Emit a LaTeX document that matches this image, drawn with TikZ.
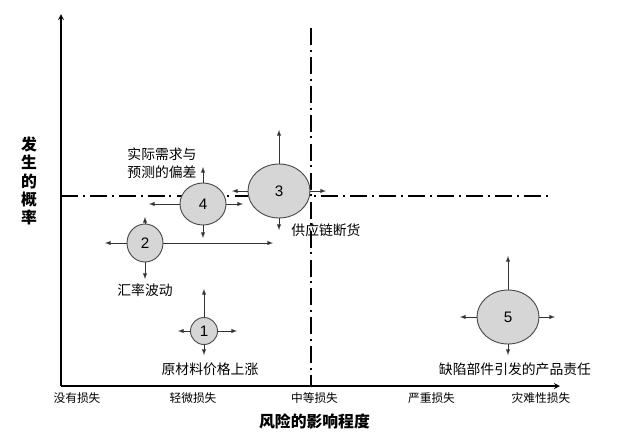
\documentclass[tikz,border=0pt]{standalone}
\usepackage{fontspec}
\setmainfont{Liberation Sans}
\newfontfamily\cjk{Noto Sans CJK SC}
\usetikzlibrary{positioning,shapes.geometric}

\tikzset{
  risk/.style={ellipse, draw=black!70, fill=black!16, line width=0.8pt, inner sep=0pt, font=\fontsize{13}{13}\selectfont},
  drift/.style={->, >=latex, draw=black!80, line width=0.65pt},
  axisline/.style={->, >=stealth, line width=1.3pt},
  limit/.style={line width=2.1pt, dash pattern=on 14.5pt off 4pt on 1.7pt off 4.5pt},
  grade/.style={font=\cjk\fontsize{10}{10}\selectfont, inner sep=0pt},
  tag/.style={font=\cjk\fontsize{11.8}{15.4}\selectfont, inner sep=0pt},
  axtitle/.style={font=\cjk\bfseries\fontsize{13.5}{15.5}\selectfont, inner sep=0pt}
}

\begin{document}
\begin{tikzpicture}[x=0.03cm, y=-0.03cm]
		\useasboundingbox (0,0) rectangle (633,434);
		
		% Draw the axes
		\coordinate (origin) at (61,386);
		\coordinate (xend) at (560,386);
		\coordinate (yend) at (61,14);
		\draw[axisline] (origin) -- (xend);
		\draw[axisline] (origin) -- (yend);
		
		% Draw the two dash-dot limits
		\coordinate (vtop) at (311,28);
		\coordinate (vbot) at (311,386);
		\coordinate (hleft) at (61,196);
		\coordinate (hright) at (550,196);
		\draw[limit] (vtop) -- (vbot);
		\draw[limit] (hleft) -- (hright);
		
		% Draw the risks
		\node (c1) [risk, minimum width=0.81cm, minimum height=0.81cm] at (204,331) {1};
		\node (c2) [risk, minimum width=1.08cm, minimum height=1.14cm] at (145,243) {2};
		\node (c3) [risk, minimum width=1.86cm, minimum height=1.62cm] at (279,191) {3};
		\node (c4) [risk, minimum width=1.38cm, minimum height=1.26cm] at (203,204) {4};
		\node (c5) [risk, minimum width=1.86cm, minimum height=1.62cm] at (508,317) {5};
		
		% Arrow ends
		\coordinate (c1u) at (204,289);
		\coordinate (c1d) at (204,355);
		\coordinate (c1l) at (178,331);
		\coordinate (c1r) at (237,331);
		\coordinate (c2u) at (145,217);
		\coordinate (c2d) at (145,279);
		\coordinate (c2l) at (105,243);
		\coordinate (c2r) at (273,243);
		\coordinate (c3u) at (279,130);
		\coordinate (c3d) at (279,230);
		\coordinate (c3l) at (232,191);
		\coordinate (c3r) at (326,191);
		\coordinate (c4u) at (203,167);
		\coordinate (c4d) at (203,238);
		\coordinate (c4l) at (149,204);
		\coordinate (c4r) at (243,204);
		\coordinate (c5u) at (508,256);
		\coordinate (c5d) at (508,355);
		\coordinate (c5l) at (460,317);
		\coordinate (c5r) at (555,317);
		
		% Connect the risks with their arrows
		\draw[drift] (c1.north) -- (c1u);
		\draw[drift] (c1.south) -- (c1d);
		\draw[drift] (c1.west) -- (c1l);
		\draw[drift] (c1.east) -- (c1r);
		\draw[drift] (c2.north) -- (c2u);
		\draw[drift] (c2.south) -- (c2d);
		\draw[drift] (c2.west) -- (c2l);
		\draw[drift] (c2.east) -- (c2r);
		\draw[drift] (c3.north) -- (c3u);
		\draw[drift] (c3.south) -- (c3d);
		\draw[drift] (c3.west) -- (c3l);
		\draw[drift] (c3.east) -- (c3r);
		\draw[drift] (c4.north) -- (c4u);
		\draw[drift] (c4.south) -- (c4d);
		\draw[drift] (c4.west) -- (c4l);
		\draw[drift] (c4.east) -- (c4r);
		\draw[drift] (c5.north) -- (c5u);
		\draw[drift] (c5.south) -- (c5d);
		\draw[drift] (c5.west) -- (c5l);
		\draw[drift] (c5.east) -- (c5r);
		
		% Label the risks
		\node (lab1) [tag, below=0.525cm of c1, xshift=0.18cm] {原材料价格上涨};
		\node (lab2) [tag, below=0.63cm of c2] {汇率波动};
		\node (lab3) [tag] at (326,230) {供应链断货};
		\node (lab4) [tag, align=left] at (162,163) {实际需求与\\预测的偏差};
		\node (lab5) [tag, below=0.54cm of c5, xshift=0.21cm] {缺陷部件引发的产品责任};
		
		% Label the axes
		\node (g0) [grade] at (77,398) {没有损失};
		\node (g1) [grade] at (193,398) {轻微损失};
		\node (g2) [grade] at (314.5,398) {中等损失};
		\node (g3) [grade] at (431.5,398) {严重损失};
		\node (g4) [grade] at (541,398) {灾难性损失};
		\node (xtitle) [axtitle] at (314.5,421) {风险的影响程度};
		\node (ytitle) [axtitle, align=center] at (29,181) {发\\生\\的\\概\\率};
	\end{tikzpicture}
\end{document}
